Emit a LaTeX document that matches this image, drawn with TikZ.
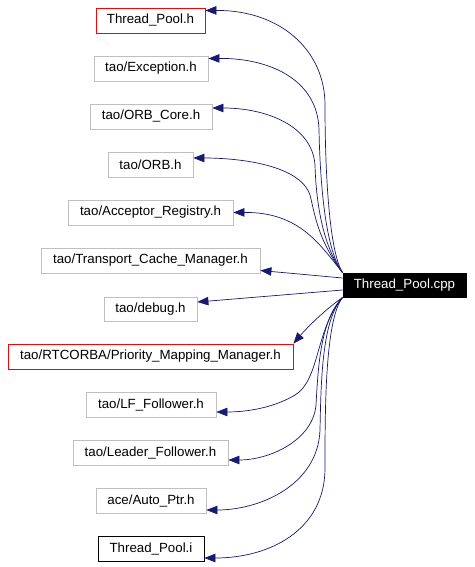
\documentclass[tikz,border=0pt]{standalone}
\usepackage{fontspec}
\setmainfont{Liberation Sans}
\usetikzlibrary{arrows.meta}
\definecolor{edgecol}{HTML}{191970}
\definecolor{graybox}{HTML}{BFBFBF}
\tikzset{
  box/.style={draw, rectangle, inner sep=0pt, line width=0.8pt, font=\fontsize{13.3}{15}\selectfont, anchor=center},
  graynode/.style={box, draw=graybox},
  rednode/.style={box, draw=red},
  blknode/.style={box, draw=black},
  edge/.style={draw=edgecol, line width=0.7pt, -{Triangle[length=11pt,width=8.5pt]}}
}
\begin{document}
\begin{tikzpicture}[x=1pt,y=-1pt]
\useasboundingbox[fill=white] (0,0) rectangle (474,567);
\node[rednode, minimum width=109pt, minimum height=25pt] (th) at (150.5,20.5) {Thread\_Pool.h};
\node[graynode, minimum width=114pt, minimum height=25pt] (exc) at (151,68.5) {tao/Exception.h};
\node[graynode, minimum width=122pt, minimum height=25pt] (orbc) at (151,116.5) {tao/ORB\_Core.h};
\node[graynode, minimum width=85pt, minimum height=25pt] (orb) at (150.5,164.5) {tao/ORB.h};
\node[graynode, minimum width=165pt, minimum height=25pt] (acc) at (150.5,212.5) {tao/Acceptor\_Registry.h};
\node[graynode, minimum width=219pt, minimum height=25pt] (tcm) at (150.5,260.5) {tao/Transport\_Cache\_Manager.h};
\node[graynode, minimum width=93pt, minimum height=24pt] (dbg) at (150.5,309) {tao/debug.h};
\node[rednode, minimum width=285pt, minimum height=25pt] (pmm) at (150.5,356.5) {tao/RTCORBA/Priority\_Mapping\_Manager.h};
\node[graynode, minimum width=130pt, minimum height=25pt] (lf) at (151,404.5) {tao/LF\_Follower.h};
\node[graynode, minimum width=155pt, minimum height=25pt] (ldr) at (150.5,452.5) {tao/Leader\_Follower.h};
\node[graynode, minimum width=110pt, minimum height=25pt] (ap) at (151,500.5) {ace/Auto\_Ptr.h};
\node[blknode, minimum width=106pt, minimum height=25pt] (tpi) at (151,548.5) {Thread\_Pool.i};
\node[box, fill=black, text=white, minimum width=123pt, minimum height=24pt] (cpp) at (404.5,285) {Thread\_Pool.cpp};

\draw[edge] (cpp.north west) .. controls (328,250) and (325,160) .. (325,105) .. controls (325,50) and (280,10) .. ([yshift=10pt]th.east);
\draw[edge] (cpp.north west) .. controls (325,250) and (320,180) .. (319,130) .. controls (318,80) and (270,58) .. ([yshift=10pt]exc.east);
\draw[edge] (cpp.north west) .. controls (322,245) and (316,200) .. (315,165) .. controls (312,125) and (265,108) .. ([yshift=8.5pt]orbc.east);
\draw[edge] (cpp.north west) .. controls (318,240) and (315,215) .. (310,195) .. controls (300,165) and (240,158) .. ([yshift=6.5pt]orb.east);
\draw[edge] (cpp.north west) .. controls (320,245) and (300,212) .. (acc.east);
\draw[edge] ([yshift=7pt]cpp.west) -- ([yshift=-10pt]tcm.east);
\draw[edge] ([yshift=-5pt]cpp.west) -- ([yshift=7pt]dbg.east);
\draw[edge] (cpp.south west) .. controls (322,312) and (305,330) .. (pmm.north east);
\draw[edge] (cpp.south west) .. controls (315,330) and (320,380) .. (295,395) .. controls (270,410) and (240,412) .. ([yshift=-7.5pt]lf.east);
\draw[edge] (cpp.south west) .. controls (320,320) and (318,370) .. (316,405) .. controls (313,440) and (270,460) .. ([yshift=-7.5pt]ldr.east);
\draw[edge] (cpp.south west) .. controls (322,320) and (321,380) .. (320,430) .. controls (318,485) and (260,510) .. ([yshift=-9.5pt]ap.east);
\draw[edge] (cpp.south west) .. controls (325,320) and (325,410) .. (325,468) .. controls (325,530) and (270,558) .. ([yshift=-9.5pt]tpi.east);
\end{tikzpicture}
\end{document}
